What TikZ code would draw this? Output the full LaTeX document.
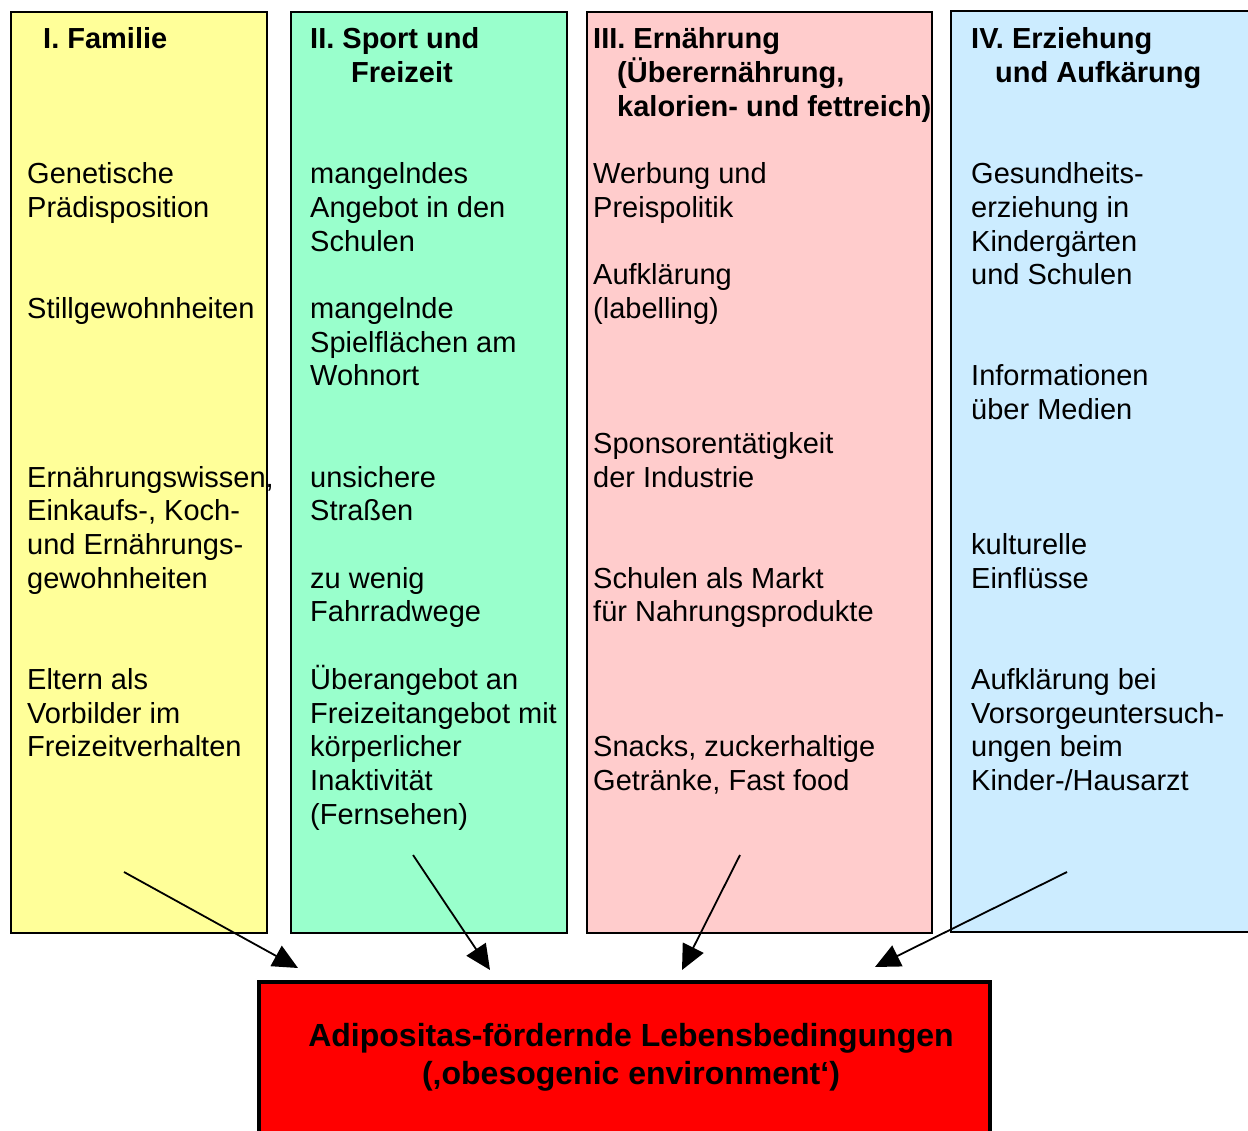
\documentclass[tikz,border=0pt]{standalone}
\usepackage{fontspec}
\setmainfont{Liberation Sans}
\usetikzlibrary{arrows.meta}
\definecolor{cyellow}{HTML}{FFFF99}
\definecolor{cgreen}{HTML}{99FFCC}
\definecolor{cpink}{HTML}{FFCCCC}
\definecolor{cblue}{HTML}{CCECFF}
\begin{document}
\begin{tikzpicture}[x=1pt,y=-1pt,
  colbox/.style={draw=black,line width=2pt,anchor=north west,inner sep=0pt},
  txt/.style={anchor=base west,inner sep=0pt,align=left,font=\fontsize{29}{33.7}\selectfont},
  hdr/.style={anchor=base west,inner sep=0pt,align=left,font=\fontsize{29}{33.7}\selectfont\bfseries},
  arr/.style={line width=1.8pt,-{Triangle[length=25pt,width=23pt]}}]
\useasboundingbox (0,0) rectangle (1248,1131);
% columns
\node[colbox,fill=cyellow,minimum width=256pt,minimum height=921pt] (c1) at (10,11) {};
\node[colbox,fill=cgreen,minimum width=276pt,minimum height=921pt] (c2) at (290,11) {};
\node[colbox,fill=cpink,minimum width=345pt,minimum height=921pt] (c3) at (586,11) {};
\node[anchor=north west,inner sep=0pt,fill=cblue,minimum width=297pt,minimum height=921pt] (c4) at (951,11) {};
\draw[line width=2pt] (1248,11) -| (951,932) -- (1248,932);
% result box
\node[anchor=north west,inner sep=0pt,fill=red,minimum width=731pt,minimum height=151pt] (res) at (259,980) {};
\draw[line width=4pt] (259,1131) |- (990,982) -- (990,1131);
\node[align=center,inner sep=0pt,font=\fontsize{32}{38}\selectfont\bfseries] (restxt) at (631,1057) {Adipositas-fördernde Lebensbedingungen\\(‚obesogenic environment‘)};
% (anchor = baseline of the LAST line; argument = row of last line)
% column I
\node[hdr] (h1) at (43,{49}) {I. Familie};
\node[txt] (a1) at (27,{49+33.7*5}) {Genetische\\Prädisposition};
\node[txt] (a2) at (27,{49+33.7*8}) {Stillgewohnheiten};
\node[txt] (a3) at (27,{49+33.7*16}) {Ernährungswissen,\\Einkaufs-, Koch-\\und Ernährungs-\\gewohnheiten};
\node[txt] (a4) at (27,{49+33.7*21}) {Eltern als\\Vorbilder im\\Freizeitverhalten};
% column II
\node[hdr] (h2) at (310,{49+33.7*1}) {II. Sport und\\\hspace*{41pt}Freizeit};
\node[txt] (b1) at (310,{49+33.7*6}) {mangelndes\\Angebot in den\\Schulen};
\node[txt] (b2) at (310,{49+33.7*10}) {mangelnde\\Spielflächen am\\Wohnort};
\node[txt] (b3) at (310,{49+33.7*14}) {unsichere\\Straßen};
\node[txt] (b4) at (310,{49+33.7*17}) {zu wenig\\Fahrradwege};
\node[txt] (b5) at (310,{49+33.7*23}) {Überangebot an\\Freizeitangebot mit\\körperlicher\\Inaktivität\\(Fernsehen)};
% column III
\node[hdr] (h3) at (593,{49+33.7*2}) {III. Ernährung\\\hspace*{24pt}(Überernährung,\\\hspace*{24pt}kalorien- und fettreich)};
\node[txt] (d1) at (593,{49+33.7*5}) {Werbung und\\Preispolitik};
\node[txt] (d2) at (593,{49+33.7*8}) {Aufklärung\\(labelling)};
\node[txt] (d3) at (593,{49+33.7*13}) {Sponsorentätigkeit\\der Industrie};
\node[txt] (d4) at (593,{49+33.7*17}) {Schulen als Markt\\für Nahrungsprodukte};
\node[txt] (d5) at (593,{49+33.7*22}) {Snacks, zuckerhaltige\\Getränke, Fast food};
% column IV
\node[hdr] (h4) at (971,{49+33.7*1}) {IV. Erziehung\\\hspace*{24pt}und Aufkärung};
\node[txt] (e1) at (971,{49+33.7*7}) {Gesundheits-\\erziehung in\\Kindergärten\\und Schulen};
\node[txt] (e2) at (971,{49+33.7*11}) {Informationen\\über Medien};
\node[txt] (e3) at (971,{49+33.7*16}) {kulturelle\\Einflüsse};
\node[txt] (e4) at (971,{49+33.7*22}) {Aufklärung bei\\Vorsorgeuntersuch-\\ungen beim\\Kinder-/Hausarzt};
% arrows
\coordinate (s1) at (124,872); \coordinate (t1) at (298,968);
\coordinate (s2) at (413,855); \coordinate (t2) at (490,970);
\coordinate (s3) at (740,855); \coordinate (t3) at (682,970);
\coordinate (s4) at (1067,872); \coordinate (t4) at (875,967);
\draw[arr] (s1) -- (t1);
\draw[arr] (s2) -- (t2);
\draw[arr] (s3) -- (t3);
\draw[arr] (s4) -- (t4);
\end{tikzpicture}
\end{document}
